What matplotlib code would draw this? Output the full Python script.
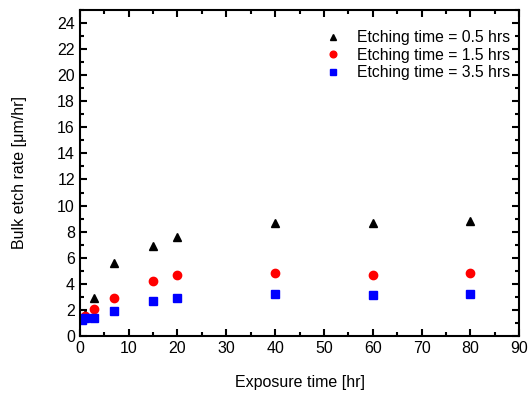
import matplotlib
matplotlib.use("Agg")
import matplotlib.pyplot as plt
from matplotlib.ticker import MultipleLocator

plt.rcParams['font.family'] = ['Liberation Sans', 'DejaVu Sans']

time = [0.5, 1, 3, 7, 15, 20, 40, 60, 80]
rate_05 = [1.3, 1.7, 2.9, 5.6, 6.9, 7.6, 8.7, 8.7, 8.8]
rate_15 = [1.3, 1.5, 2.1, 2.9, 4.2, 4.7, 4.8, 4.7, 4.8]
rate_35 = [1.2, 1.35, 1.4, 1.9, 2.7, 2.9, 3.2, 3.15, 3.2]

fig = plt.figure(figsize=(5.32, 3.96), dpi=100)
ax = fig.add_axes([0.150, 0.1515, 0.826, 0.8235])

ax.plot(time, rate_05, '^', color='black', ms=6, label='Etching time = 0.5 hrs')
ax.plot(time, rate_15, 'o', color='red', ms=6, label='Etching time = 1.5 hrs')
ax.plot(time, rate_35, 's', color='blue', ms=5.5, label='Etching time = 3.5 hrs')

ax.set_xlim(0, 90)
ax.set_ylim(0, 25)
ax.xaxis.set_major_locator(MultipleLocator(10))
ax.xaxis.set_minor_locator(MultipleLocator(5))
ax.yaxis.set_major_locator(MultipleLocator(2))
ax.yaxis.set_minor_locator(MultipleLocator(1))
ax.tick_params(which='both', direction='in', top=True, right=True, width=1.5, labelsize=11.5)
ax.tick_params(which='major', length=5)
ax.tick_params(which='minor', length=3)
for s in ax.spines.values():
    s.set_linewidth(1.5)

ax.set_xlabel('Exposure time [hr]', fontsize=11.5, labelpad=14)
ax.set_ylabel('Bulk etch rate [\u03bcm/hr]', fontsize=11.5, labelpad=22)
ax.legend(loc='upper right', bbox_to_anchor=(1.016, 0.985), frameon=False,
          fontsize=11.3, handletextpad=0.55, labelspacing=0.15, markerscale=0.8,
          borderaxespad=0.6)

fig.savefig('out.png', dpi=100)
